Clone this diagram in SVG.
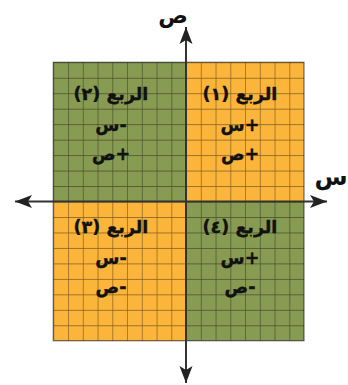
<svg xmlns="http://www.w3.org/2000/svg" width="348" height="385" viewBox="0 0 348 385">
<style>
.orange{fill:#FCB53B}
.green{fill:#889B53}
.lbl{font-family:"DejaVu Sans",sans-serif;font-weight:bold;font-size:17.5px;fill:#111;stroke:#111;stroke-width:0.4;text-anchor:middle;direction:rtl;unicode-bidi:embed}
.ax{font-family:"DejaVu Sans",sans-serif;font-weight:bold;fill:#111;text-anchor:middle;direction:rtl}
.axis{stroke:#333;stroke-width:2;fill:none}
</style>
<defs>
<pattern id="grid" patternUnits="userSpaceOnUse" x="53.3" y="62.3" width="14.75" height="15.47">
<path d="M0,0 H14.75 M0,0 V15.47" stroke="#000" stroke-opacity="0.5" stroke-width="1.3" fill="none"/>
</pattern>
<marker id="arr" viewBox="0 -7 17 14" refX="17" refY="0" markerWidth="17" markerHeight="14" markerUnits="userSpaceOnUse" orient="auto-start-reverse">
<path d="M0,-6.5 L17,0 L0,6.5 L4,0 Z" fill="#222"/>
</marker>
</defs>
<g id="quadrants">
<rect id="q2" class="green" x="53.3" y="62.3" width="132.7" height="139.2"/>
<rect id="q1" class="orange" x="186" y="62.3" width="118" height="139.2"/>
<rect id="q3" class="orange" x="53.3" y="201.5" width="132.7" height="139.2"/>
<rect id="q4" class="green" x="186" y="201.5" width="118" height="139.2"/>
<rect x="53.3" y="62.3" width="250.7" height="278.4" fill="url(#grid)"/>
<rect x="53.3" y="62.3" width="250.7" height="278.4" fill="none" stroke="#000" stroke-opacity="0.5" stroke-width="1.3"/>
</g>
<g id="connectors">
<line class="axis" x1="15" y1="201.5" x2="327" y2="201.5" marker-start="url(#arr)" marker-end="url(#arr)"/>
<line class="axis" x1="186" y1="27" x2="186" y2="383" marker-start="url(#arr)" marker-end="url(#arr)"/>
</g>
<g id="axis-y-label"><text class="ax" x="173" y="23" font-size="22">ص</text></g>
<g id="axis-x-label"><text class="ax" x="331" y="185" font-size="24">س</text></g>
<g id="node-q2">
<text class="lbl" x="111" y="100">الربع (٢)</text>
<text class="lbl" x="111" y="131">-س</text>
<text class="lbl" x="111" y="160">+ص</text>
</g>
<g id="node-q1">
<text class="lbl" x="240" y="100">الربع (١)</text>
<text class="lbl" x="240" y="131">+س</text>
<text class="lbl" x="240" y="160">+ص</text>
</g>
<g id="node-q3">
<text class="lbl" x="111" y="233">الربع (٣)</text>
<text class="lbl" x="111" y="264">-س</text>
<text class="lbl" x="111" y="293">-ص</text>
</g>
<g id="node-q4">
<text class="lbl" x="240" y="233">الربع (٤)</text>
<text class="lbl" x="240" y="264">+س</text>
<text class="lbl" x="240" y="293">-ص</text>
</g>
</svg>
